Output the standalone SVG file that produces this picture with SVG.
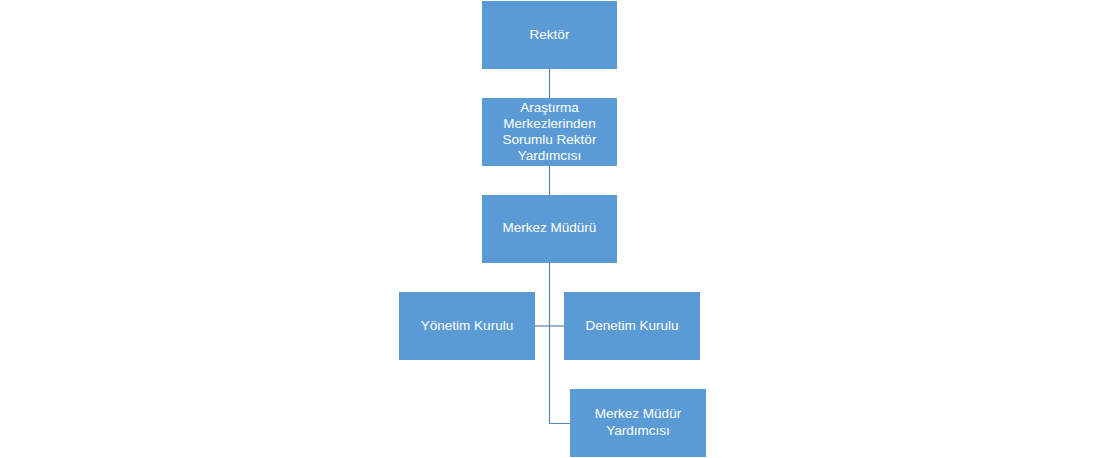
<svg xmlns="http://www.w3.org/2000/svg" width="1104" height="458" viewBox="0 0 1104 458">
<style>
.box{fill:#5B9BD5;}
.t{font-family:"Liberation Sans",Arial,sans-serif;font-size:13.5px;fill:#FFFFFF;text-anchor:middle;dominant-baseline:central;}
.c{fill:none;stroke:#5A86B4;stroke-width:1.2;}
</style>
<rect width="1104" height="458" fill="#FFFFFF"/>
<g id="connectors">
<line class="c" x1="549.5" y1="69" x2="549.5" y2="98"/>
<line class="c" x1="549.5" y1="166" x2="549.5" y2="195"/>
<polyline class="c" points="549.5,263 549.5,423.5 570,423.5"/>
<line class="c" x1="535" y1="326" x2="564" y2="326"/>
</g>
<g id="rektor">
<rect class="box" x="482" y="1" width="135" height="68"/>
<text class="t" x="549.5" y="34">Rektör</text>
</g>
<g id="rektor-yardimcisi">
<rect class="box" x="482" y="98" width="135" height="68"/>
<text class="t" x="549.5" y="107">Araştırma</text>
<text class="t" x="549.5" y="123">Merkezlerinden</text>
<text class="t" x="549.5" y="139">Sorumlu Rektör</text>
<text class="t" x="549.5" y="155">Yardımcısı</text>
</g>
<g id="merkez-muduru">
<rect class="box" x="482" y="195" width="135" height="68"/>
<text class="t" x="549.5" y="227">Merkez Müdürü</text>
</g>
<g id="yonetim-kurulu">
<rect class="box" x="399" y="292" width="136" height="68"/>
<text class="t" x="467" y="325">Yönetim Kurulu</text>
</g>
<g id="denetim-kurulu">
<rect class="box" x="564" y="292" width="136" height="68"/>
<text class="t" x="632" y="325">Denetim Kurulu</text>
</g>
<g id="merkez-mudur-yardimcisi">
<rect class="box" x="570" y="389" width="136" height="68"/>
<text class="t" x="638" y="413">Merkez Müdür</text>
<text class="t" x="638" y="430">Yardımcısı</text>
</g>
</svg>
